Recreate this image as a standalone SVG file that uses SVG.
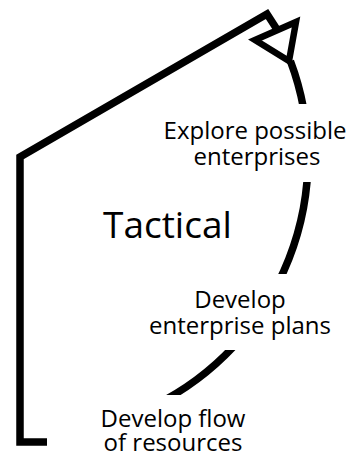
<svg xmlns="http://www.w3.org/2000/svg" width="357" height="455" viewBox="0 0 357 455">
  <style>
    .line { fill: none; stroke: #000; stroke-width: 7.5; stroke-linejoin: miter; stroke-miterlimit: 10; }
    .head { fill: #fff; stroke: #000; stroke-width: 6.5; stroke-linejoin: miter; stroke-miterlimit: 10; }
    .bg { fill: #fff; stroke: none; }
    .label { font-family: "Open Sans", "Noto Sans", "Liberation Sans", sans-serif; font-size: 24px; fill: #000; text-anchor: middle; }
    .title { font-family: "Open Sans", "Noto Sans", "Liberation Sans", sans-serif; font-size: 37px; fill: #000; }
  </style>
  <rect width="357" height="455" fill="#fff"/>

  <!-- connectors: the cycle arc and the feedback return line -->
  <g id="connectors">
    <path class="line" d="M290.4,61 A276,276 0 0 1 155.2,405"/>
    <path class="line" d="M47,442 H20 V157 L267,14 L278,31"/>
    <polygon class="head" points="255,40 296,22 289,61"/>
  </g>

  <g id="explore">
    <rect class="bg" x="158" y="104" width="194" height="78"/>
    <text class="label" x="255" y="139">Explore possible</text>
    <text class="label" x="257" y="164.5">enterprises</text>
  </g>

  <g id="tactical">
    <text class="title" x="103" y="238">Tactical</text>
  </g>

  <g id="plans">
    <rect class="bg" x="140" y="274" width="200" height="76"/>
    <text class="label" x="240" y="307.5">Develop</text>
    <text class="label" x="240" y="333.5">enterprise plans</text>
  </g>

  <g id="resources">
    <rect class="bg" x="90" y="395" width="170" height="60"/>
    <text class="label" x="173" y="427">Develop flow</text>
    <text class="label" x="173" y="450.5">of resources</text>
  </g>
</svg>
